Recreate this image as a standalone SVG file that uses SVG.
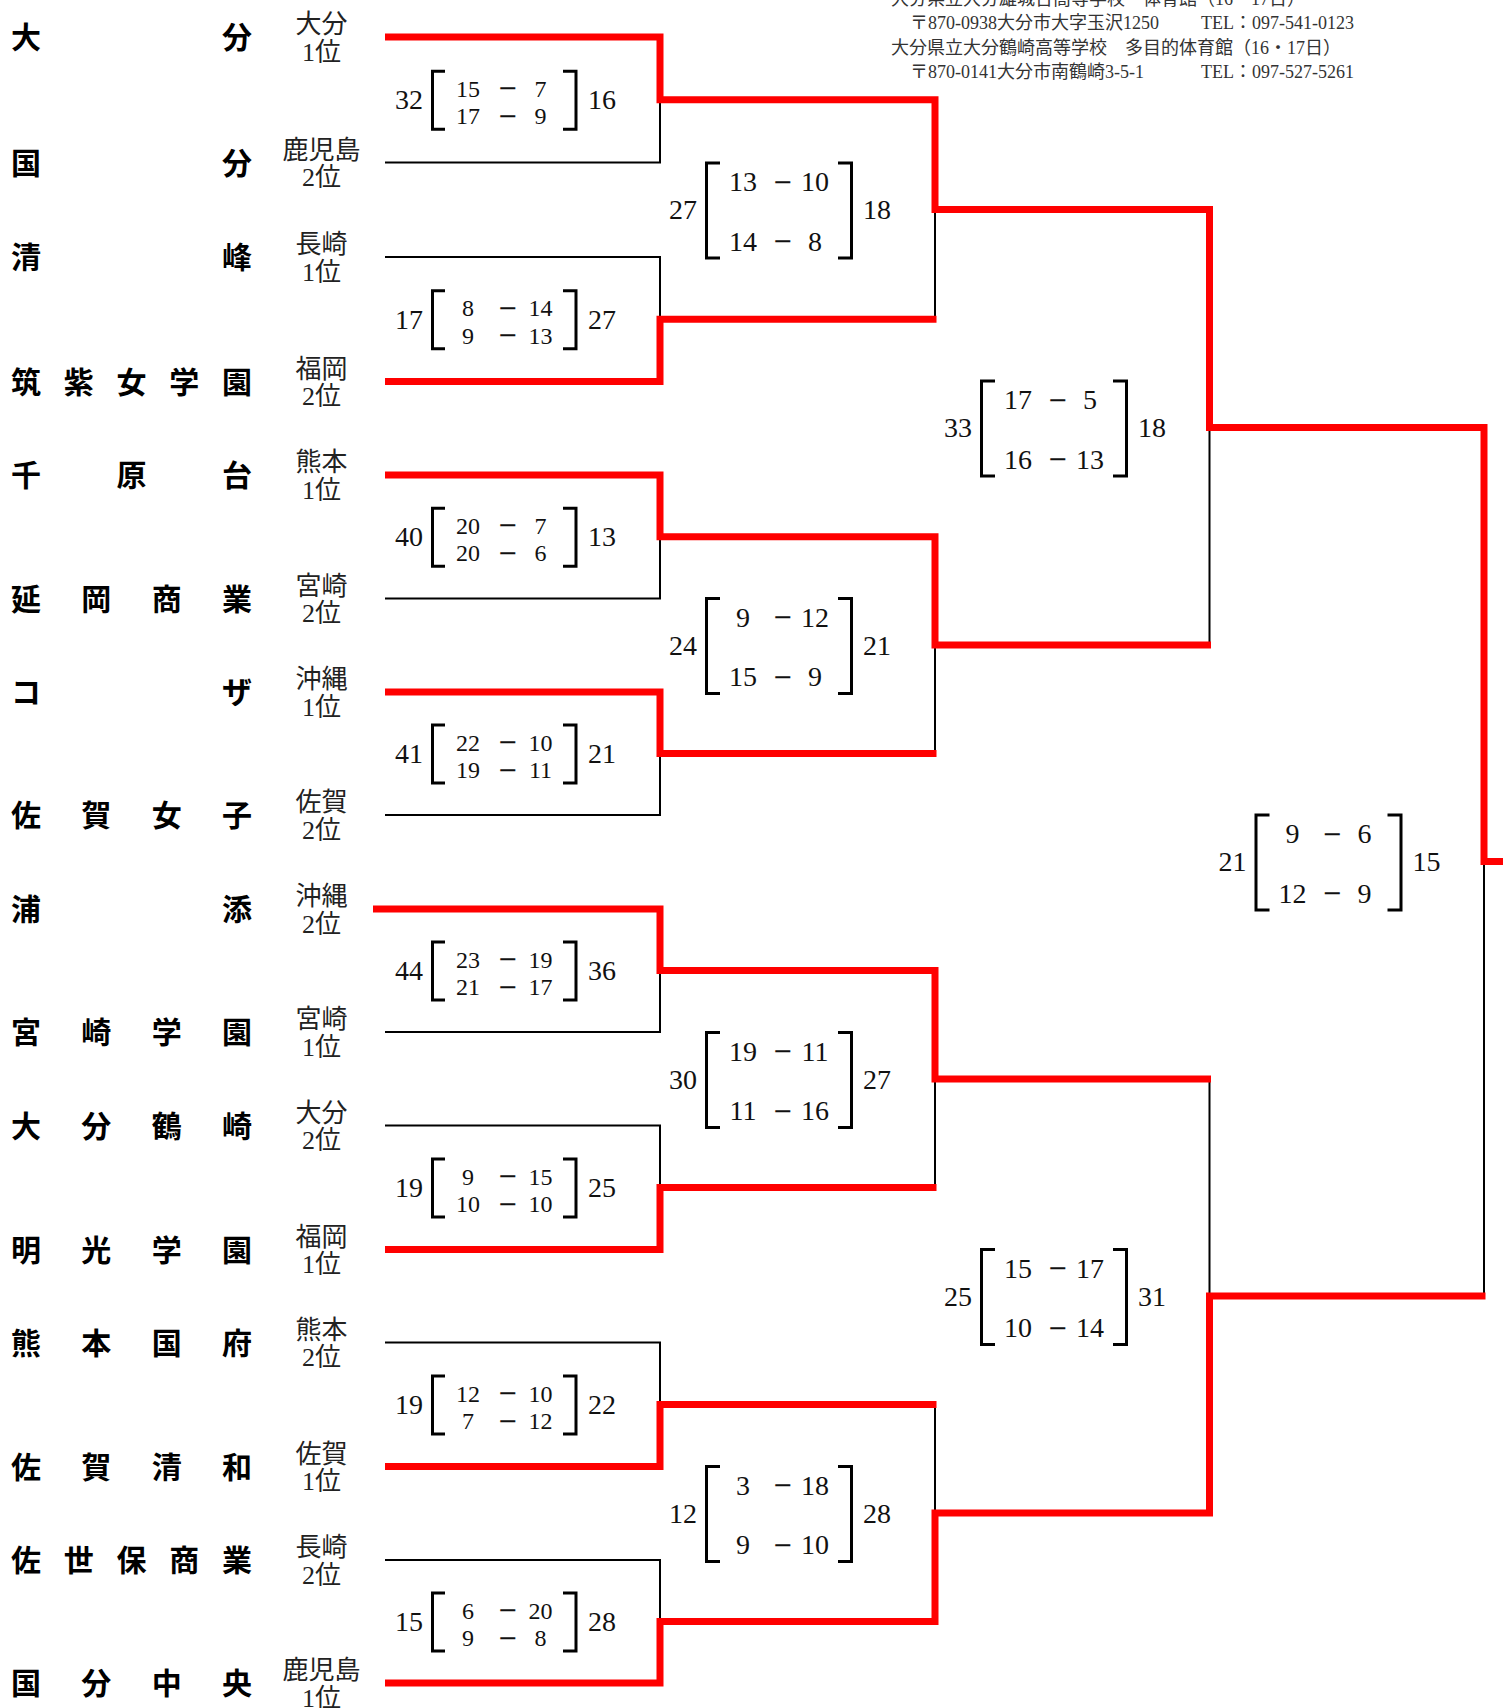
<svg xmlns="http://www.w3.org/2000/svg" width="1503" height="1708" viewBox="0 0 1503 1708">
<style>
.team{font-family:"Noto Sans CJK JP","Noto Sans CJK SC",sans-serif;font-size:30px;font-weight:bold;fill:#000}
.pref{font-family:"Liberation Serif","Noto Sans CJK JP",serif;font-size:26px;fill:#222;text-anchor:middle}
.hdr{font-family:"Liberation Serif","Noto Sans CJK JP",serif;font-size:18px;fill:#333}
.bk{fill:none;stroke:#000;stroke-width:2}
.rd{fill:none;stroke:#ff0000;stroke-width:7;stroke-linejoin:miter}
.br{fill:none;stroke:#000;stroke-width:3}
.so{font-family:"Liberation Serif",serif;font-size:28px;fill:#111}
.s1{font-family:"Liberation Serif",serif;font-size:24px;fill:#111;text-anchor:middle}
.s2{font-family:"Liberation Serif",serif;font-size:28px;fill:#111;text-anchor:middle}
.dh{font-family:"DejaVu Serif",serif;font-size:24px;fill:#111;text-anchor:middle}
.e{text-anchor:end}
</style>
<rect width="1503" height="1708" fill="#fff"/>
<g id="header">
<text class="hdr" x="891" y="5">大分県立大分雄城台高等学校　体育館（16・17日）</text>
<text class="hdr" x="910" y="29">〒870-0938大分市大字玉沢1250</text>
<text class="hdr" x="1201" y="29">TEL：097-541-0123</text>
<text class="hdr" x="891" y="54">大分県立大分鶴崎高等学校　多目的体育館（16・17日）</text>
<text class="hdr" x="910" y="78">〒870-0141大分市南鶴崎3-5-1</text>
<text class="hdr" x="1201" y="78">TEL：097-527-5261</text>
</g>
<g id="connectors">
<path class="bk" d="M385 37H660V162.5H385M385 257H660V381.5H385M385 475H660V598.5H385M385 692H660V815H385M385 909H660V1032H385M385 1125.5H660V1249.5H385M385 1342.5H660V1466.5H385M385 1560H660V1683H385"/>
<path class="bk" d="M660 99.75H935V319.25H660M660 536.75H935V753.5H660M660 970.5H935V1187.5H660M660 1404.5H935V1621.5H660"/>
<path class="bk" d="M935 209.5H1209.5V645H935M935 1079H1209.5V1513H935"/>
<path class="bk" d="M1209.5 427.5H1484V1296H1209.5"/>
<path class="rd" d="M385 37H660V99.75H935V209.5H1209.5V427.5H1484V861.5H1503"/>
<path class="rd" d="M385 381.5H660V319.25H936.5"/>
<path class="rd" d="M385 475H660V536.75H935V645H1211"/>
<path class="rd" d="M385 692H660V753.5H936.5"/>
<path class="rd" d="M373 909H660V970.5H935V1079H1211"/>
<path class="rd" d="M385 1249.5H660V1187.5H936.5"/>
<path class="rd" d="M385 1466.5H660V1404.5H936.5"/>
<path class="rd" d="M385 1683H660V1621.5H935V1513H1209.5V1296H1485.5"/>
</g>
<g id="team-01"><text class="team" x="11" y="48" textLength="241" lengthAdjust="spacing">大分</text><text class="pref" x="321.5" y="33">大分<tspan x="321.5" dy="27.5">1位</tspan></text></g>
<g id="team-02"><text class="team" x="11" y="173.5" textLength="241" lengthAdjust="spacing">国分</text><text class="pref" x="321.5" y="158.5">鹿児島<tspan x="321.5" dy="27.5">2位</tspan></text></g>
<g id="team-03"><text class="team" x="11" y="268" textLength="241" lengthAdjust="spacing">清峰</text><text class="pref" x="321.5" y="253">長崎<tspan x="321.5" dy="27.5">1位</tspan></text></g>
<g id="team-04"><text class="team" x="11" y="392.5" textLength="241" lengthAdjust="spacing">筑紫女学園</text><text class="pref" x="321.5" y="377.5">福岡<tspan x="321.5" dy="27.5">2位</tspan></text></g>
<g id="team-05"><text class="team" x="11" y="486" textLength="241" lengthAdjust="spacing">千原台</text><text class="pref" x="321.5" y="471">熊本<tspan x="321.5" dy="27.5">1位</tspan></text></g>
<g id="team-06"><text class="team" x="11" y="609.5" textLength="241" lengthAdjust="spacing">延岡商業</text><text class="pref" x="321.5" y="594.5">宮崎<tspan x="321.5" dy="27.5">2位</tspan></text></g>
<g id="team-07"><text class="team" x="11" y="703" textLength="241" lengthAdjust="spacing">コザ</text><text class="pref" x="321.5" y="688">沖縄<tspan x="321.5" dy="27.5">1位</tspan></text></g>
<g id="team-08"><text class="team" x="11" y="826" textLength="241" lengthAdjust="spacing">佐賀女子</text><text class="pref" x="321.5" y="811">佐賀<tspan x="321.5" dy="27.5">2位</tspan></text></g>
<g id="team-09"><text class="team" x="11" y="920" textLength="241" lengthAdjust="spacing">浦添</text><text class="pref" x="321.5" y="905">沖縄<tspan x="321.5" dy="27.5">2位</tspan></text></g>
<g id="team-10"><text class="team" x="11" y="1043" textLength="241" lengthAdjust="spacing">宮崎学園</text><text class="pref" x="321.5" y="1028">宮崎<tspan x="321.5" dy="27.5">1位</tspan></text></g>
<g id="team-11"><text class="team" x="11" y="1136.5" textLength="241" lengthAdjust="spacing">大分鶴崎</text><text class="pref" x="321.5" y="1121.5">大分<tspan x="321.5" dy="27.5">2位</tspan></text></g>
<g id="team-12"><text class="team" x="11" y="1260.5" textLength="241" lengthAdjust="spacing">明光学園</text><text class="pref" x="321.5" y="1245.5">福岡<tspan x="321.5" dy="27.5">1位</tspan></text></g>
<g id="team-13"><text class="team" x="11" y="1353.5" textLength="241" lengthAdjust="spacing">熊本国府</text><text class="pref" x="321.5" y="1338.5">熊本<tspan x="321.5" dy="27.5">2位</tspan></text></g>
<g id="team-14"><text class="team" x="11" y="1477.5" textLength="241" lengthAdjust="spacing">佐賀清和</text><text class="pref" x="321.5" y="1462.5">佐賀<tspan x="321.5" dy="27.5">1位</tspan></text></g>
<g id="team-15"><text class="team" x="11" y="1571" textLength="241" lengthAdjust="spacing">佐世保商業</text><text class="pref" x="321.5" y="1556">長崎<tspan x="321.5" dy="27.5">2位</tspan></text></g>
<g id="team-16"><text class="team" x="11" y="1694" textLength="241" lengthAdjust="spacing">国分中央</text><text class="pref" x="321.5" y="1679">鹿児島<tspan x="321.5" dy="27.5">1位</tspan></text></g>
<g id="r1-m1"><path class="br" d="M445 71.25H432.5V129.25H445M563 71.25H576V129.25H563"/><text class="so e" x="423" y="109.25">32</text><text class="so" x="588" y="109.25">16</text><text class="s1" x="468" y="96.75">15</text><text class="dh" x="507.5" y="96.25">−</text><text class="s1" x="540.5" y="96.75">7</text><text class="s1" x="468" y="124.25">17</text><text class="dh" x="507.5" y="123.75">−</text><text class="s1" x="540.5" y="124.25">9</text></g>
<g id="r1-m2"><path class="br" d="M445 290.75H432.5V348.75H445M563 290.75H576V348.75H563"/><text class="so e" x="423" y="328.75">17</text><text class="so" x="588" y="328.75">27</text><text class="s1" x="468" y="316.25">8</text><text class="dh" x="507.5" y="315.75">−</text><text class="s1" x="540.5" y="316.25">14</text><text class="s1" x="468" y="343.75">9</text><text class="dh" x="507.5" y="343.25">−</text><text class="s1" x="540.5" y="343.75">13</text></g>
<g id="r1-m3"><path class="br" d="M445 508.25H432.5V566.25H445M563 508.25H576V566.25H563"/><text class="so e" x="423" y="546.25">40</text><text class="so" x="588" y="546.25">13</text><text class="s1" x="468" y="533.75">20</text><text class="dh" x="507.5" y="533.25">−</text><text class="s1" x="540.5" y="533.75">7</text><text class="s1" x="468" y="561.25">20</text><text class="dh" x="507.5" y="560.75">−</text><text class="s1" x="540.5" y="561.25">6</text></g>
<g id="r1-m4"><path class="br" d="M445 725H432.5V783H445M563 725H576V783H563"/><text class="so e" x="423" y="763">41</text><text class="so" x="588" y="763">21</text><text class="s1" x="468" y="750.5">22</text><text class="dh" x="507.5" y="750">−</text><text class="s1" x="540.5" y="750.5">10</text><text class="s1" x="468" y="778">19</text><text class="dh" x="507.5" y="777.5">−</text><text class="s1" x="540.5" y="778">11</text></g>
<g id="r1-m5"><path class="br" d="M445 942H432.5V1000H445M563 942H576V1000H563"/><text class="so e" x="423" y="980">44</text><text class="so" x="588" y="980">36</text><text class="s1" x="468" y="967.5">23</text><text class="dh" x="507.5" y="967">−</text><text class="s1" x="540.5" y="967.5">19</text><text class="s1" x="468" y="995">21</text><text class="dh" x="507.5" y="994.5">−</text><text class="s1" x="540.5" y="995">17</text></g>
<g id="r1-m6"><path class="br" d="M445 1159H432.5V1217H445M563 1159H576V1217H563"/><text class="so e" x="423" y="1197">19</text><text class="so" x="588" y="1197">25</text><text class="s1" x="468" y="1184.5">9</text><text class="dh" x="507.5" y="1184">−</text><text class="s1" x="540.5" y="1184.5">15</text><text class="s1" x="468" y="1212">10</text><text class="dh" x="507.5" y="1211.5">−</text><text class="s1" x="540.5" y="1212">10</text></g>
<g id="r1-m7"><path class="br" d="M445 1376H432.5V1434H445M563 1376H576V1434H563"/><text class="so e" x="423" y="1414">19</text><text class="so" x="588" y="1414">22</text><text class="s1" x="468" y="1401.5">12</text><text class="dh" x="507.5" y="1401">−</text><text class="s1" x="540.5" y="1401.5">10</text><text class="s1" x="468" y="1429">7</text><text class="dh" x="507.5" y="1428.5">−</text><text class="s1" x="540.5" y="1429">12</text></g>
<g id="r1-m8"><path class="br" d="M445 1593H432.5V1651H445M563 1593H576V1651H563"/><text class="so e" x="423" y="1631">15</text><text class="so" x="588" y="1631">28</text><text class="s1" x="468" y="1618.5">6</text><text class="dh" x="507.5" y="1618">−</text><text class="s1" x="540.5" y="1618.5">20</text><text class="s1" x="468" y="1646">9</text><text class="dh" x="507.5" y="1645.5">−</text><text class="s1" x="540.5" y="1646">8</text></g>
<g id="r2-m1"><path class="br" d="M720 163H706.5V258H720M838 163H851.5V258H838"/><text class="so e" x="697" y="219">27</text><text class="so" x="863" y="219">18</text><text class="s2" x="743" y="191">13</text><text class="dh" x="782.5" y="189.5">−</text><text class="s2" x="815" y="191">10</text><text class="s2" x="743" y="250.5">14</text><text class="dh" x="782.5" y="249">−</text><text class="s2" x="815" y="250.5">8</text></g>
<g id="r2-m2"><path class="br" d="M720 598.5H706.5V693.5H720M838 598.5H851.5V693.5H838"/><text class="so e" x="697" y="654.5">24</text><text class="so" x="863" y="654.5">21</text><text class="s2" x="743" y="626.5">9</text><text class="dh" x="782.5" y="625">−</text><text class="s2" x="815" y="626.5">12</text><text class="s2" x="743" y="686">15</text><text class="dh" x="782.5" y="684.5">−</text><text class="s2" x="815" y="686">9</text></g>
<g id="r2-m3"><path class="br" d="M720 1032.5H706.5V1127.5H720M838 1032.5H851.5V1127.5H838"/><text class="so e" x="697" y="1088.5">30</text><text class="so" x="863" y="1088.5">27</text><text class="s2" x="743" y="1060.5">19</text><text class="dh" x="782.5" y="1059">−</text><text class="s2" x="815" y="1060.5">11</text><text class="s2" x="743" y="1120">11</text><text class="dh" x="782.5" y="1118.5">−</text><text class="s2" x="815" y="1120">16</text></g>
<g id="r2-m4"><path class="br" d="M720 1466.5H706.5V1561.5H720M838 1466.5H851.5V1561.5H838"/><text class="so e" x="697" y="1522.5">12</text><text class="so" x="863" y="1522.5">28</text><text class="s2" x="743" y="1494.5">3</text><text class="dh" x="782.5" y="1493">−</text><text class="s2" x="815" y="1494.5">18</text><text class="s2" x="743" y="1554">9</text><text class="dh" x="782.5" y="1552.5">−</text><text class="s2" x="815" y="1554">10</text></g>
<g id="r3-m1"><path class="br" d="M995 381H981.5V476H995M1113 381H1126.5V476H1113"/><text class="so e" x="972" y="437">33</text><text class="so" x="1138" y="437">18</text><text class="s2" x="1018" y="409">17</text><text class="dh" x="1057.5" y="407.5">−</text><text class="s2" x="1090" y="409">5</text><text class="s2" x="1018" y="468.5">16</text><text class="dh" x="1057.5" y="467">−</text><text class="s2" x="1090" y="468.5">13</text></g>
<g id="r3-m2"><path class="br" d="M995 1249.5H981.5V1344.5H995M1113 1249.5H1126.5V1344.5H1113"/><text class="so e" x="972" y="1305.5">25</text><text class="so" x="1138" y="1305.5">31</text><text class="s2" x="1018" y="1277.5">15</text><text class="dh" x="1057.5" y="1276">−</text><text class="s2" x="1090" y="1277.5">17</text><text class="s2" x="1018" y="1337">10</text><text class="dh" x="1057.5" y="1335.5">−</text><text class="s2" x="1090" y="1337">14</text></g>
<g id="final"><path class="br" d="M1269.5 815H1256V910H1269.5M1387.5 815H1401V910H1387.5"/><text class="so e" x="1246.5" y="871">21</text><text class="so" x="1412.5" y="871">15</text><text class="s2" x="1292.5" y="843">9</text><text class="dh" x="1332" y="841.5">−</text><text class="s2" x="1364.5" y="843">6</text><text class="s2" x="1292.5" y="902.5">12</text><text class="dh" x="1332" y="901">−</text><text class="s2" x="1364.5" y="902.5">9</text></g>
</svg>
